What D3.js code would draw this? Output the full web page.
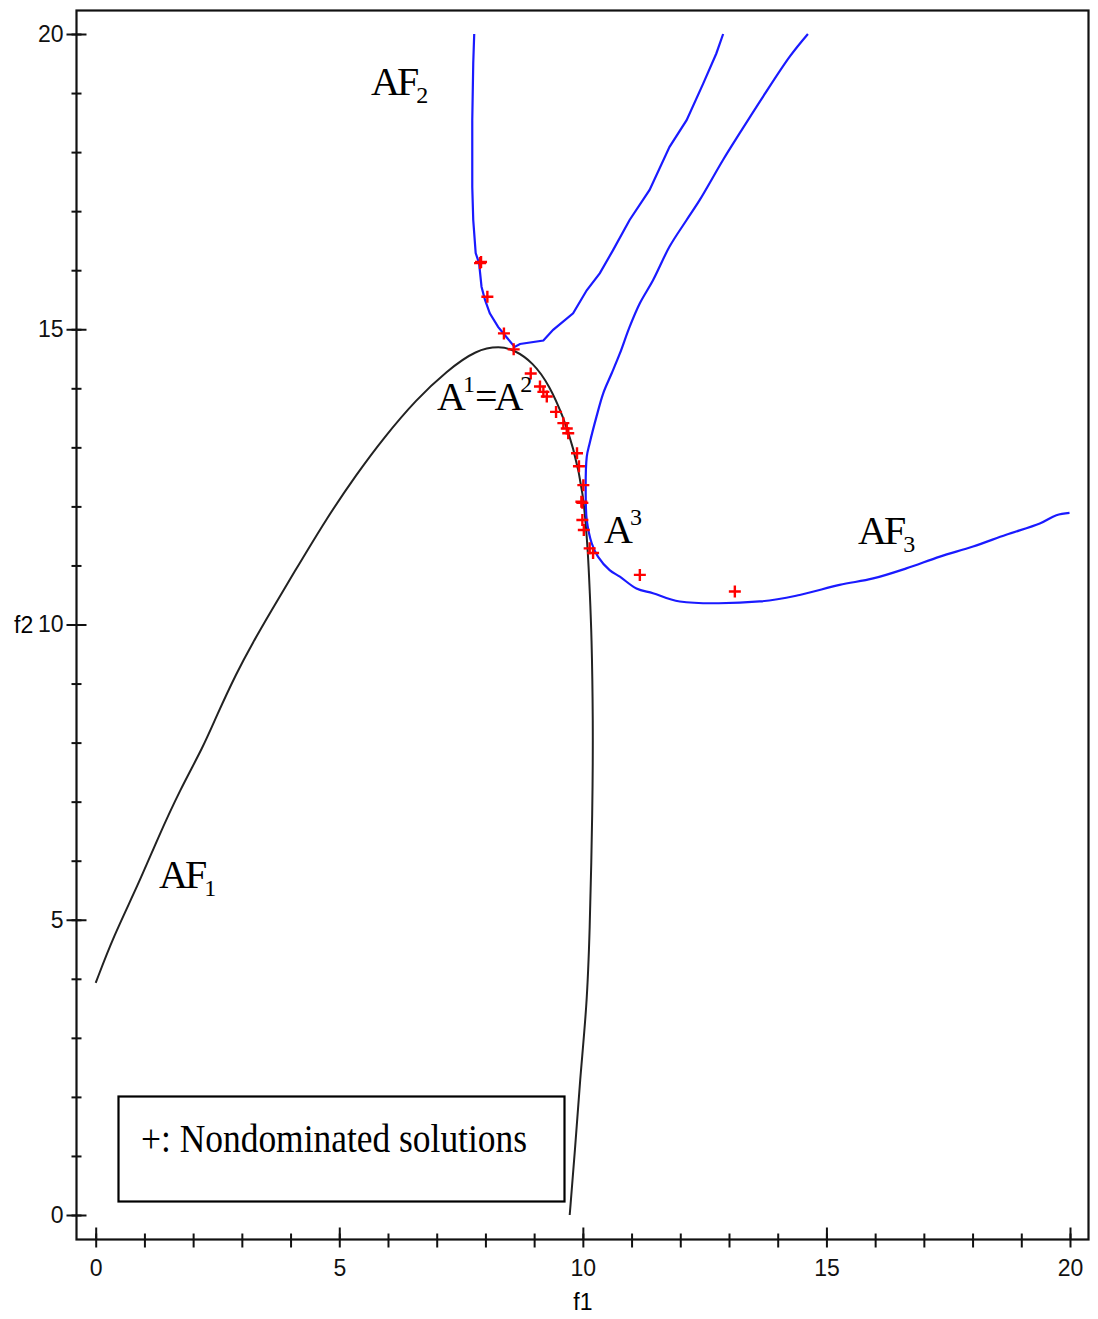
<!DOCTYPE html>
<html lang="en">
<head>
<meta charset="utf-8">
<style type="text/css">
    body { margin: 0; background: #fff; }
    svg { display: block; background: #fff; }
    .tick text { font-family: "Liberation Sans", Arial, sans-serif; font-size: 23px; fill: #111; }
    .lbl { font-family: "Liberation Serif", "Times New Roman", serif; fill: #000; }
</style>
</head>
<body>
<svg width="1098" height="1319"></svg>
<script src="https://d3js.org/d3.v7.min.js"></script>
<script type="text/javascript">

    // black curve (AF1)
    var af1X = [0, 0.36, 0.87, 1.28, 1.73, 2.21, 2.48, 2.89, 3.23, 3.58, 4.05, 4.74, 5.36, 5.90, 6.59, 7.20, 7.82, 8.30, 8.57, 8.98, 9.32, 9.60, 9.80, 10.01, 10.11, 10.14, 10.18, 10.21, 10.20, 10.14, 10.08, 9.94, 9.84, 9.73];
    var af1Y = [3.93, 4.71, 5.59, 6.39, 7.20, 7.93, 8.45, 9.18, 9.70, 10.20, 10.85, 11.80, 12.55, 13.15, 13.82, 14.29, 14.66, 14.71, 14.66, 14.44, 14.04, 13.51, 13.01, 12.27, 11.17, 10.58, 9.84, 8.38, 6.91, 4.71, 3.52, 2.29, 1.10, 0];

    // blue curve (AF2)
    var af2X = [7.77, 7.75, 7.73, 7.73, 7.75, 7.80, 7.87, 7.92, 7.99, 8.09, 8.26, 8.43, 8.60, 8.71, 9.19, 9.39, 9.80, 10.08, 10.35, 10.62, 10.96, 11.37, 11.78, 12.13, 12.47, 12.74, 12.88];
    var af2Y = [20.0, 19.50, 18.54, 17.41, 16.85, 16.29, 16.12, 15.72, 15.50, 15.27, 15.04, 14.87, 14.70, 14.75, 14.81, 14.99, 15.27, 15.66, 15.95, 16.34, 16.85, 17.36, 18.09, 18.54, 19.16, 19.67, 20.0];

    // blue curve (AF3)
    var af3X = [14.62, 14.25, 13.70, 13.22, 12.88, 12.40, 12.13, 11.78, 11.44, 11.17, 10.96, 10.76, 10.59, 10.42, 10.28, 10.14, 10.08, 10.06, 10.08, 10.18, 10.31, 10.55, 10.76, 11.10, 11.44, 11.99, 13.63, 14.45, 15.27, 15.96, 16.64, 17.33, 18.01, 18.69, 19.38, 19.72, 19.99];
    var af3Y = [20.0, 19.62, 18.94, 18.32, 17.87, 17.19, 16.85, 16.40, 15.83, 15.44, 15.04, 14.59, 14.25, 13.92, 13.52, 13.07, 12.84, 12.11, 11.77, 11.38, 11.15, 10.92, 10.81, 10.61, 10.53, 10.39, 10.39, 10.50, 10.67, 10.78, 10.95, 11.15, 11.32, 11.52, 11.71, 11.85, 11.89];

    // nondominated solutions (+)
    var ndX = [7.89, 7.91, 8.04, 8.38, 8.58, 8.93, 9.12, 9.19, 9.26, 9.45, 9.60, 9.67, 9.70, 9.88, 9.92, 10.01, 9.97, 9.99, 9.99, 10.02, 10.14, 10.21, 11.17, 13.12];
    var ndY = [16.12, 16.14, 15.55, 14.93, 14.66, 14.25, 14.03, 13.94, 13.86, 13.60, 13.41, 13.32, 13.24, 12.90, 12.68, 12.36, 12.08, 12.06, 11.77, 11.60, 11.29, 11.21, 10.84, 10.56];

    var xTicks = [0, 5, 10, 15, 20];
    var yTicks = [0, 5, 10, 15, 20];
    var minorTicks = d3.range(0, 21);

    var svg = d3.select("svg");

    var x = d3.scaleLinear().domain([0, 20]).range([95.7, 1070]);
    var y = d3.scaleLinear().domain([0, 20]).range([1215, 34]);

    // frame
    svg.append("rect")
        .attr("x", 76.5).attr("y", 10.5)
        .attr("width", 1012).attr("height", 1229)
        .attr("fill", "none").attr("stroke", "#111").attr("stroke-width", 2.2);

    // x axis: outside ticks with labels, then inside parts
    var gx = svg.append("g").attr("transform", "translate(0,1239.5)");
    gx.call(d3.axisBottom(x).tickValues(minorTicks).tickSize(8).tickFormat(""));
    gx.append("g").call(d3.axisBottom(x).tickValues(minorTicks).tickSize(-6).tickFormat(""));
    gx.append("g").call(d3.axisBottom(x).tickValues(xTicks).tickSize(-12).tickPadding(20).tickFormat(d3.format("d")));
    gx.selectAll(".domain").remove();
    gx.selectAll("line").attr("stroke", "#111").attr("stroke-width", 2);

    var gy = svg.append("g").attr("transform", "translate(76.5,0)");
    gy.call(d3.axisLeft(y).tickValues(minorTicks).tickSize(5).tickFormat(""));
    gy.append("g").call(d3.axisLeft(y).tickValues(minorTicks).tickSize(-5).tickFormat(""));
    gy.append("g").call(d3.axisLeft(y).tickValues(yTicks).tickSize(10).tickPadding(3).tickFormat(d3.format("d")));
    gy.append("g").call(d3.axisLeft(y).tickValues(yTicks).tickSize(-10).tickFormat(""));
    gy.selectAll(".domain").remove();
    gy.selectAll("line").attr("stroke", "#111").attr("stroke-width", 2);

    // axis titles
    svg.append("text").attr("x", x(10)).attr("y", 1310)
        .attr("text-anchor", "middle")
        .style("font-family", "Liberation Sans, Arial, sans-serif").style("font-size", "23px")
        .text("f1");
    svg.append("text").attr("x", 14).attr("y", y(10) + 8)
        .style("font-family", "Liberation Sans, Arial, sans-serif").style("font-size", "23px")
        .text("f2");

    var line = d3.line()
        .x(function (d) { return x(d[0]); })
        .y(function (d) { return y(d[1]); });

    function pairs(xs, ys) {
        return xs.map(function (v, i) { return [v, ys[i]]; });
    }

    svg.append("path").datum(pairs(af1X, af1Y))
        .attr("d", line.curve(d3.curveBasis))
        .attr("fill", "none").attr("stroke", "#222").attr("stroke-width", 2);

    svg.append("path").datum(pairs(af2X, af2Y))
        .attr("d", line.curve(d3.curveLinear))
        .attr("fill", "none").attr("stroke", "#1a1aff").attr("stroke-width", 2.2);

    svg.append("path").datum(pairs(af3X, af3Y))
        .attr("d", line.curve(d3.curveCatmullRom))
        .attr("fill", "none").attr("stroke", "#1a1aff").attr("stroke-width", 2.2);

    // + markers
    svg.selectAll(".nd")
        .data(pairs(ndX, ndY))
        .enter()
        .append("path")
        .attr("class", "nd")
        .attr("d", function (d) {
            var cx = x(d[0]), cy = y(d[1]), r = 6;
            return "M" + (cx - r) + "," + cy + "H" + (cx + r) + "M" + cx + "," + (cy - r) + "V" + (cy + r);
        })
        .attr("stroke", "#ff0000").attr("stroke-width", 2.4);

    // curve labels: parts are [text, shift] where shift 0 = normal, 1 = sub, -1 = super
    function label(px, py, parts) {
        var t = svg.append("text").attr("class", "lbl")
            .attr("x", px).attr("y", py)
            .style("font-size", "40px").style("letter-spacing", "-3px");
        var cur = 0;
        parts.forEach(function (p) {
            var off = p[1] > 0 ? 8 : (p[1] < 0 ? -18 : 0);
            var s = t.append("tspan").attr("dy", off - cur).text(p[0]);
            if (p[1] !== 0) s.style("font-size", "24px").style("letter-spacing", "0px");
            cur = off;
        });
        return t;
    }

    label(371, 95, [["AF", 0], ["2", 1]]);
    label(159, 888, [["AF", 0], ["1", 1]]);
    label(858, 544, [["AF", 0], ["3", 1]]);
    label(604, 543, [["A", 0], ["3", -1]]);
    label(437, 410, [["A", 0], ["1", -1], ["=A", 0], ["2", -1]]);

    // legend box
    svg.append("rect")
        .attr("x", 118.5).attr("y", 1096.5)
        .attr("width", 446).attr("height", 105)
        .attr("fill", "#fff").attr("stroke", "#000").attr("stroke-width", 2.2);
    svg.append("text").attr("class", "lbl")
        .attr("x", 141).attr("y", 1152)
        .attr("textLength", 386).attr("lengthAdjust", "spacingAndGlyphs")
        .style("font-size", "40px")
        .text("+: Nondominated solutions");

</script>
</body>
</html>
